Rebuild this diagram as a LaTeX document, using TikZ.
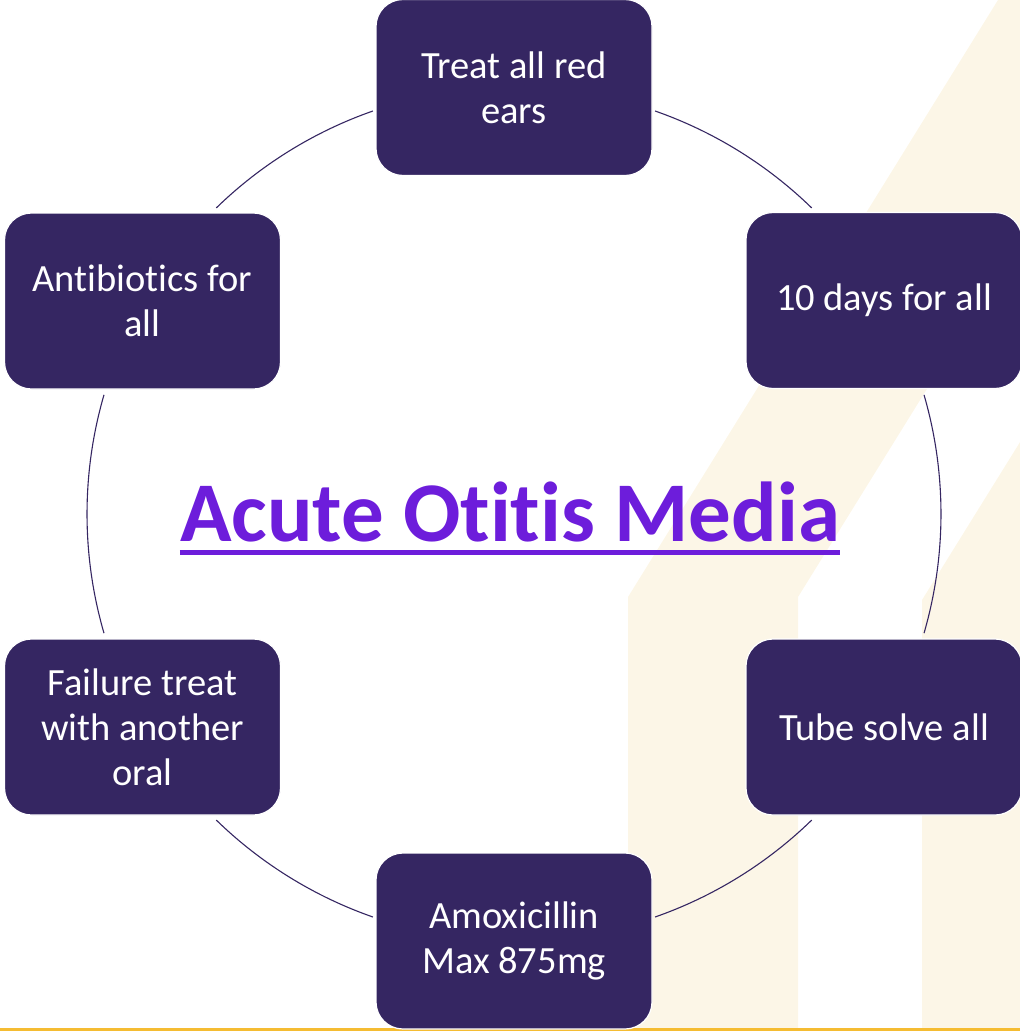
\documentclass[tikz,border=0pt]{standalone}
\usepackage{fontspec}
\setmainfont{Carlito}[Ligatures=NoCommon]
\definecolor{boxfill}{RGB}{53,38,98}
\definecolor{arccol}{RGB}{53,38,98}
\definecolor{beige}{RGB}{252,246,231}
\definecolor{titlecol}{RGB}{109,29,219}
\definecolor{goldline}{RGB}{245,188,50}
\tikzset{
  stepbox/.style={draw=white, line width=1.2pt, fill=boxfill, rounded corners=27pt,
    minimum width=276pt, minimum height=176pt, inner sep=0pt, align=center,
    text=white, font=\fontsize{38.5}{45}\selectfont},
  cyclearc/.style={draw=arccol, line width=1.1pt},
}
\begin{document}
\begin{tikzpicture}[x=1pt,y=-1pt]
\useasboundingbox (0,0) rectangle (1020,1031);
% background bands
\begin{scope}
\clip (0,0) rectangle (1020,1031);
\fill[beige] (628,1040) -- (628,597) -- (998,0) -- (998,-10) -- (1175,-10) -- (1168,0) -- (798,597) -- (798,1040) -- cycle;
\fill[beige] (922,1040) -- (922,600) -- (1030,426) -- (1030,1040) -- cycle;
\draw[goldline, line width=3pt] (0,1029.5) -- (1020,1029.5);
\end{scope}
% cycle arcs
\coordinate (c) at (514,514);
\draw[cyclearc] (c) ++(-70.7:427) arc[start angle=-70.7, end angle=-45.8, radius=427];
\draw[cyclearc] (c) ++(-16.2:427) arc[start angle=-16.2, end angle=16.2, radius=427];
\draw[cyclearc] (c) ++(45.8:427) arc[start angle=45.8, end angle=70.7, radius=427];
\draw[cyclearc] (c) ++(109.3:427) arc[start angle=109.3, end angle=134.2, radius=427];
\draw[cyclearc] (c) ++(163.8:427) arc[start angle=163.8, end angle=196.2, radius=427];
\draw[cyclearc] (c) ++(225.8:427) arc[start angle=225.8, end angle=250.7, radius=427];
% boxes
\node[stepbox] (top) at (514,87.5) {Treat all red\\ears};
\node[stepbox] (ur) at (884,300.5) {10 days for all};
\node[stepbox] (lr) at (884,727) {Tube solve all};
\node[stepbox] (bot) at (514,941) {Amoxicillin\\Max 875mg};
\node[stepbox] (ll) at (142.5,727) {Failure treat\\with another\\oral};
\node[stepbox] (ul) at (142.5,301) {Antibiotics for\\all};
% title
\node[anchor=base, inner sep=0pt, text=titlecol, font=\fontsize{85}{100}\selectfont\bfseries] (title) at (510,541) {Acute Otitis Media};
\draw[titlecol, line width=5pt] ([yshift=-11pt]title.base west) -- ([yshift=-11pt]title.base east);
\end{tikzpicture}
\end{document}
